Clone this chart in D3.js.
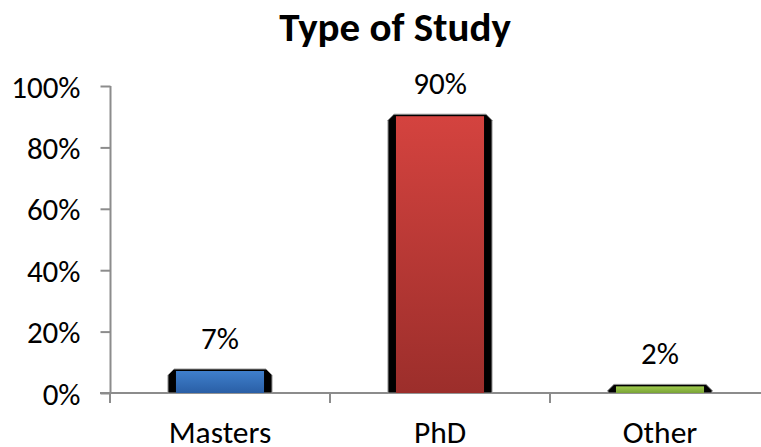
<!DOCTYPE html>
<html><head><meta charset="utf-8">
<script src="https://cdn.jsdelivr.net/npm/d3@7"></script>
<style>
body{margin:0;background:#fff;}
text{font-family:Carlito,Calibri,Lato,sans-serif;fill:#000;}
</style></head>
<body><svg id="c" width="761" height="447"></svg>
<script>
const categories = ["Masters", "PhD", "Other"];
const values = [0.07, 0.90, 0.02];
const valueLabels = ["7%", "90%", "2%"];
const yTicks = [0, 0.2, 0.4, 0.6, 0.8, 1.0];
const colorsTop = ["#3f7fcc", "#d4433f", "#9fca4c"];
const colorsBottom = ["#2a5fa6", "#9c2e2b", "#7aa337"];

const svg = d3.select("#c");
const x = d3.scaleBand().domain(categories).range([110, 770]).paddingInner(0.527).paddingOuter(0.2635);
const y = d3.scaleLinear().domain([0, 1]).range([393, 86]);

const defs = svg.append("defs");
categories.forEach((c, i) => {
  const g = defs.append("linearGradient").attr("id", "g" + i).attr("x1", 0).attr("y1", 0).attr("x2", 0).attr("y2", 1);
  g.append("stop").attr("offset", "0%").attr("stop-color", colorsTop[i]);
  g.append("stop").attr("offset", "100%").attr("stop-color", colorsBottom[i]);
});

// title
svg.append("text").attr("x", 395).attr("y", 41).attr("text-anchor", "middle")
  .style("font-size", "41px").style("font-weight", "bold").text("Type of Study");

// y axis
const yAxis = d3.axisLeft(y).tickValues(yTicks).tickFormat(d3.format(".0%")).tickSize(10).tickPadding(20);
const ya = svg.append("g").attr("transform", "translate(110.5,0)").call(yAxis);
ya.selectAll("text").style("font-size", "31px").attr("dy", "0.36em");
ya.select(".domain").attr("stroke", "#8c8c8c").attr("stroke-width", 2).attr("d", "M0,86V393");
ya.selectAll(".tick line").attr("stroke", "#8c8c8c").attr("stroke-width", 2);

// x axis
const xa = svg.append("g").attr("transform", "translate(0,393)");
xa.append("line").attr("x1", 100).attr("x2", 770).attr("y1", 0).attr("y2", 0).attr("stroke", "#8c8c8c").attr("stroke-width", 2);
const step = x.step();
const bounds = [110, 110 + step, 110 + 2 * step, 110 + 3 * step];
xa.selectAll("line.t").data(bounds).join("line").attr("class", "t")
  .attr("x1", d => d).attr("x2", d => d).attr("y1", 0).attr("y2", 10)
  .attr("stroke", "#8c8c8c").attr("stroke-width", 2);
xa.selectAll("text.c").data(categories).join("text").attr("class", "c")
  .attr("x", d => x(d) + x.bandwidth() / 2).attr("y", 50).attr("text-anchor", "middle")
  .style("font-size", "31.5px").text(d => d);

// bars
const bw = x.bandwidth();
categories.forEach((c, i) => {
  const x0 = x(c), x1 = x0 + bw;
  const top = y(values[i]) - 2.5, base = y(0);
  const bev = 6, side = 8;
  const g = svg.append("g");
  g.append("path")
    .attr("d", `M${x0},${base}V${top + bev}L${x0 + bev},${top}H${x1 - bev}L${x1},${top + bev}V${base}Z`)
    .attr("fill", "#000").attr("stroke", "#9a9a9a").attr("stroke-width", 1);
  g.append("rect").attr("x", x0 + side).attr("y", top + 2).attr("width", bw - 2 * side)
    .attr("height", Math.max(0, base - top - 2)).attr("fill", `url(#g${i})`);
  svg.append("text").attr("x", x0 + bw / 2).attr("y", top - 20).attr("text-anchor", "middle")
    .style("font-size", "31px").text(valueLabels[i]);
});
</script></body></html>
